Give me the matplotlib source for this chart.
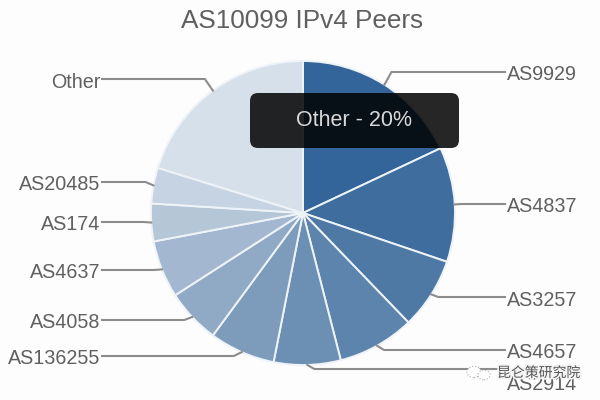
#!/usr/bin/env python
"""AS10099 IPv4 peers pie with a hover tooltip, saved to out.png."""
import numpy as np
import matplotlib

matplotlib.use("Agg")
import matplotlib.pyplot as plt
import matplotlib.patheffects as pe
from matplotlib.patches import Ellipse, FancyBboxPatch

LABELS = ["AS9929", "AS4837", "AS3257", "AS4657", "AS2914", "AS136255",
          "AS4058", "AS4637", "AS174", "AS20485", "Other"]
SHARES = [18.0, 12.2, 7.6, 8.2, 7.1, 7.0, 5.8, 6.1, 4.0, 3.8, 20.2]
COLORS = ["#33649a", "#3f6d9e", "#4f79a5", "#5d84ad", "#6c8fb4", "#7d9bbb",
          "#90aac6", "#a3b8d0", "#b5c7d7", "#c6d3e3", "#d6e0ea"]
LABEL_Y = [72, 204, 297, 350, 369, 356, 320, 270, 222, 182, 79]

CX, CY, R = 303, 400 - 213, 152
GREY = "#606060"

plt.rcParams["font.family"] = ["Liberation Sans", "DejaVu Sans"]

fig = plt.figure(figsize=(6, 4), dpi=100, facecolor="#fdfdfd")
ax = fig.add_axes([0, 0, 1, 1])
ax.pie(SHARES, colors=COLORS, startangle=90, counterclock=False, center=(CX, CY), radius=R,
       frame=True, wedgeprops=dict(edgecolor="#eef3f8", linewidth=1.4))
ax.set_xlim(0, 600)
ax.set_ylim(0, 400)
ax.axis("off")

ax.text(302, 400 - 21, "AS10099 IPv4 Peers", ha="center", va="center", fontsize=18.8, color=GREY)

# leader lines start at each wedge's mid angle, labels sit either side of the pie
edges = np.cumsum([0] + SHARES) / sum(SHARES) * 2 * np.pi
for i, name in enumerate(LABELS):
    mid = (edges[i] + edges[i + 1]) / 2
    x0, y0 = CX + R * np.sin(mid), CY + R * np.cos(mid)
    y1 = 400 - LABEL_Y[i]
    right = np.sin(mid) > 0
    knee = x0 + (7 if right else -8)
    end = 505 if right else 102
    ax.plot([x0, knee, end], [y0, y1, y1], color="#8c8c8c", lw=1.5, solid_joinstyle="round", zorder=1)
    tx = 507 if right else 100
    # the last right-hand label sits below its leader, under the watermark
    ty = y1 - 16 if name == "AS2914" else y1 - 3
    ax.text(tx, ty, name, ha="left" if right else "right", va="center", fontsize=14.2,
            color=GREY, zorder=2)

# hover tooltip
ax.add_patch(FancyBboxPatch((250, 400 - 148), 209, 55, boxstyle="round,pad=0,rounding_size=8",
                            facecolor="#000000", edgecolor="none", alpha=0.85, zorder=5))
ax.text(354, 400 - 120, "Other - 20%", ha="center", va="center", fontsize=15.5, color="#d8d8d8", zorder=6)

# watermark over the bottom right corner
halo = [pe.withStroke(linewidth=2.5, foreground="#f4f4f4")]
for ex, ey, ew in [(474, 372, 14), (484, 375, 12)]:
    ax.add_patch(Ellipse((ex, 400 - ey), ew, ew * 0.8, facecolor="white", edgecolor="#b0b0b0",
                         linewidth=0.8, linestyle=":", zorder=7))
ax.text(497, 400 - 373, "昆仑策研究院", ha="left", va="center", fontsize=10, color="#555555",
        family=["Noto Sans CJK SC", "DejaVu Sans"], path_effects=halo, zorder=8)

fig.savefig("out.png", dpi=100, facecolor=fig.get_facecolor())
plt.close(fig)
